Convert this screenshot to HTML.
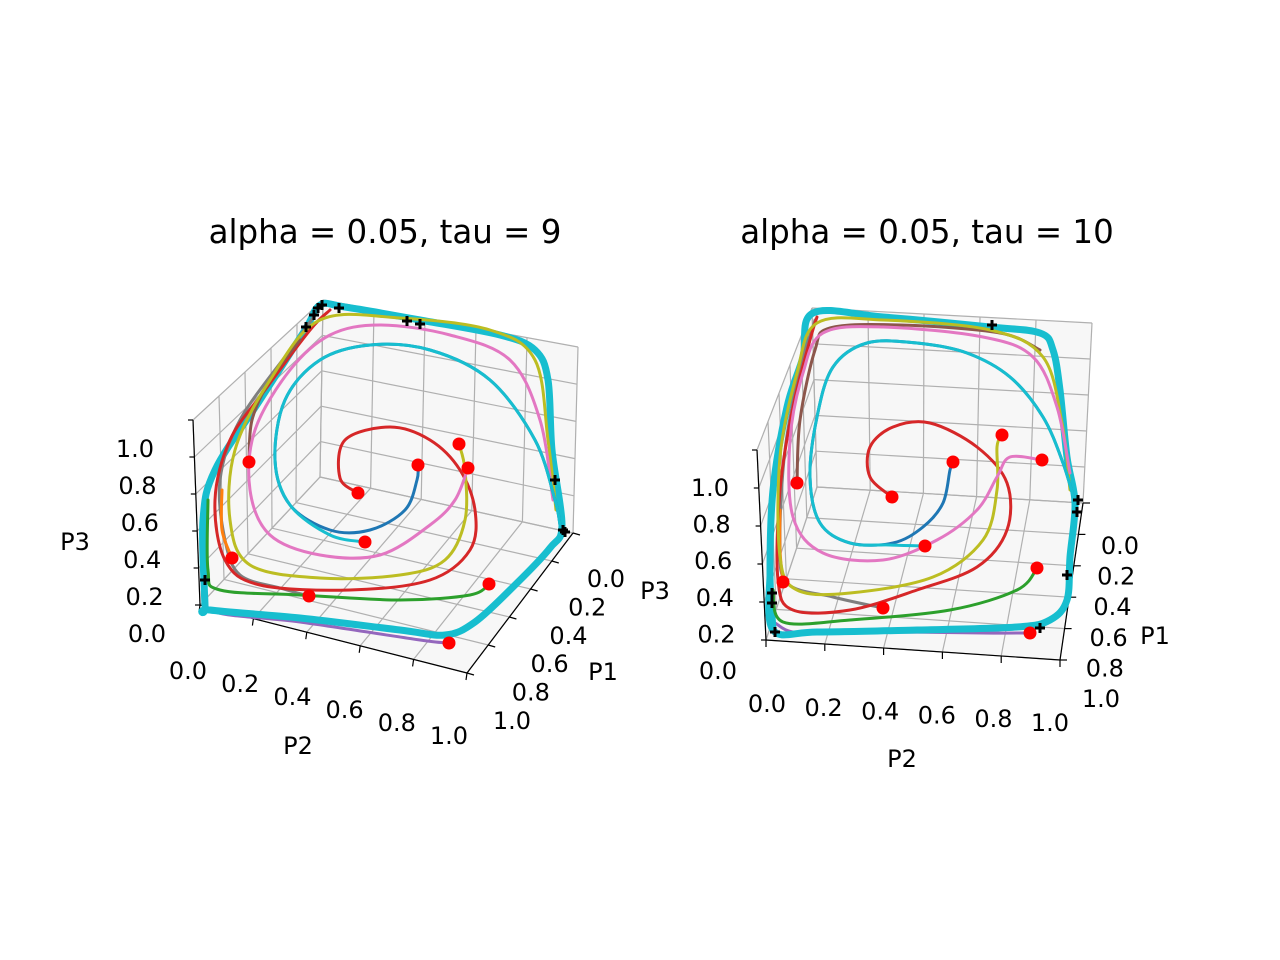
<!DOCTYPE html>
<html><head><meta charset="utf-8"><style>
body{margin:0;background:#fff;overflow:hidden}
svg{display:block}
text{font-family:"DejaVu Sans","Liberation Sans",sans-serif;fill:#000}
</style></head><body>
<svg id="fig" width="1280" height="960" viewBox="0 0 1280 960">
<rect width="1280" height="960" fill="#fff"/>
<text x="385" y="243" font-size="32.5" text-anchor="middle">alpha = 0.05, tau = 9</text>
<text x="927" y="243" font-size="32.5" text-anchor="middle">alpha = 0.05, tau = 10</text>
<g id="left"></g>
<g id="right"></g>
</svg>
<script>
// Trajectories in projected view coordinates (view plane units), per panel
const leftCycle=[[-1.80,-1.25],[-1.82,-0.40],[-1.70,0.10],[-1.25,0.80],[-0.80,1.50],[-0.65,1.75],[-0.40,1.73],[0.35,1.60],[1.15,1.45],[1.50,1.30],[1.63,1.00],[1.67,0.30],[1.77,-0.45],[1.65,-0.68],[1.30,-1.05],[0.90,-1.42],[0.60,-1.55],[0.15,-1.50],[-0.85,-1.38],[-1.75,-1.30],[-1.80,-1.25],[-1.82,-0.40]];
const leftBlue=[[0.33,0.15],[0.32,0],[0.20,-0.30],[-0.15,-0.50],[-0.55,-0.50],[-0.95,-0.25],[-1.10,0.20],[-1.00,0.80],[-0.65,1.20],[-0.15,1.35],[0.45,1.30],[1.05,1.00],[1.50,0.40],[1.70,-0.20],[1.75,-0.45]];
const leftCyan=[[-0.20,-0.62],[-0.55,-0.55],[-0.95,-0.25],[-1.10,0.20],[-1.00,0.80],[-0.65,1.20],[-0.15,1.35],[0.45,1.30],[1.05,1.00],[1.50,0.40],[1.70,-0.20],[1.75,-0.45]];
const leftRed=[[-0.27,-0.13],[-0.45,0.02],[-0.40,0.40],[0.05,0.53],[0.45,0.40],[0.75,0.10],[0.90,-0.30],[0.85,-0.70],[0.45,-1.00],[-0.35,-1.10],[-1.25,-1.05],[-1.60,-0.80],[-1.70,-0.20],[-1.55,0.40],[-1.20,0.90],[-0.75,1.50],[-0.55,1.70]];
const leftPink=[[0.83,0.12],[0.70,-0.20],[0.45,-0.45],[-0.05,-0.75],[-0.65,-0.75],[-1.15,-0.55],[-1.35,-0.10],[-1.30,0.50],[-0.95,1.10],[-0.55,1.45],[-0.05,1.55],[0.65,1.45],[1.25,1.20],[1.55,0.60],[1.68,-0.20]];
const leftBrown=[[-1.36,0.18],[-1.33,0.60],[-1.15,1.00],[-0.85,1.40]];
const leftOlive=[[0.74,0.36],[0.80,0.10],[0.80,-0.40],[0.60,-0.80],[0.15,-0.95],[-0.65,-0.98],[-1.35,-0.85],[-1.55,-0.40],[-1.50,0.30],[-1.15,1.00],[-0.65,1.60],[0.15,1.62],[1.05,1.50],[1.50,1.20],[1.63,0.40],[1.71,-0.30]];
const leftGreen=[[1.04,-1.04],[0.85,-1.15],[0.15,-1.20],[-0.85,-1.15],[-1.65,-1.10],[-1.77,-0.90],[-1.77,-0.20]];
const leftPurple=[[0.64,-1.63],[0.35,-1.60],[-0.85,-1.42],[-1.70,-1.32],[-1.80,-1.10]];
const leftGray=[[-0.76,-1.16],[-1.05,-1.08],[-1.45,-0.95],[-1.60,-0.60],[-1.65,0],[-1.45,0.60],[-0.95,1.30],[-0.70,1.65]];
const leftOrange=[[-1.53,-0.78],[-1.63,-0.50],[-1.63,-0.10]];
const leftStarts=[[-1.36,0.18],[-0.27,-0.13],[0.33,0.15],[0.74,0.36],[0.83,0.12],[-0.20,-0.62],[-1.53,-0.78],[-0.76,-1.16],[1.04,-1.04],[0.64,-1.63]];
const leftEnds=[[-1.80,-1.00],[-0.79,1.53],[-0.71,1.65],[-0.67,1.72],[-0.63,1.75],[-0.46,1.72],[0.22,1.59],[0.35,1.56],[1.70,0],[1.78,-0.50],[1.80,-0.52]];

const rightCycle=[[-1.47,-1.50],[-1.50,-0.93],[-1.47,-0.10],[-1.33,0.73],[-1.17,1.23],[-1.07,1.67],[-0.37,1.63],[0.70,1.53],[1.20,1.47],[1.33,1.30],[1.40,0.90],[1.47,0.23],[1.55,-0.23],[1.50,-0.77],[1.47,-1.20],[1.30,-1.40],[0.97,-1.47],[-0.03,-1.50],[-1.03,-1.52],[-1.47,-1.50],[-1.50,-0.93]];
const rightBlue=[[0.33,0.18],[0.30,0.10],[0.23,-0.23],[0.03,-0.47],[-0.27,-0.63],[-0.70,-0.63],[-1.00,-0.43],[-1.10,0.03],[-1.03,0.63],[-0.87,1.13],[-0.53,1.37],[-0.03,1.37],[0.47,1.27],[0.90,1.03],[1.23,0.63],[1.43,0.17],[1.55,-0.23]];
const rightCyan=[[0.05,-0.66],[-0.30,-0.65],[-0.70,-0.63],[-1.00,-0.43],[-1.10,0.03],[-1.03,0.63],[-0.87,1.13],[-0.53,1.37],[-0.03,1.37],[0.47,1.27],[0.90,1.03],[1.23,0.63],[1.43,0.17],[1.55,-0.23]];
const rightRed=[[-0.28,-0.17],[-0.50,0.03],[-0.50,0.33],[-0.27,0.53],[0.10,0.57],[0.57,0.33],[0.87,-0.03],[0.87,-0.50],[0.57,-0.87],[-0.03,-1.10],[-0.70,-1.30],[-1.27,-1.30],[-1.42,-1.00],[-1.40,-0.10],[-1.27,0.73],[-1.10,1.40],[-1.03,1.63]];
const rightPink=[[1.22,0.20],[0.90,0.23],[0.77,0.03],[0.57,-0.30],[0.17,-0.60],[-0.37,-0.80],[-0.97,-0.73],[-1.27,-0.37],[-1.30,0.40],[-1.17,1.07],[-0.97,1.47],[-0.37,1.53],[0.63,1.43],[1.13,1.23],[1.37,0.73],[1.50,0.07]];
const rightOlive=[[0.82,0.45],[0.77,0.33],[0.77,-0.10],[0.63,-0.60],[0.13,-0.97],[-0.70,-1.13],[-1.23,-1.10],[-1.40,-0.77],[-1.40,0.23],[-1.23,1.07],[-1.03,1.57],[-0.37,1.60],[0.70,1.50],[1.23,1.23],[1.42,0.57],[1.50,-0.10]];
const rightGreen=[[1.17,-0.88],[0.97,-1.10],[0.30,-1.30],[-0.70,-1.40],[-1.37,-1.42],[-1.47,-1.10]];
const rightPurple=[[1.10,-1.53],[0.63,-1.53],[-0.37,-1.52],[-1.20,-1.53],[-1.45,-1.43]];
const rightGray=[[-0.37,-1.28],[-0.87,-1.17],[-1.33,-1.03],[-1.40,-0.60],[-1.35,0.30],[-1.20,1.10],[-1.05,1.60]];
const rightBrown=[[-1.23,-0.03],[-1.20,0.60],[-1.05,1.30],[-0.90,1.52],[-0.20,1.55],[0.80,1.47],[1.20,1.30]];
const rightOrange=[[-1.37,-1.02],[-1.40,-0.70],[-1.40,-0.30]];
const rightStarts=[[0.33,0.18],[-0.28,-0.17],[0.82,0.45],[1.22,0.20],[0.05,-0.66],[-1.23,-0.03],[-1.37,-1.02],[-0.37,-1.28],[1.17,-0.88],[1.10,-1.53]];
const rightEnds=[[0.72,1.55],[1.58,-0.20],[1.57,-0.32],[1.47,-0.95],[1.20,-1.48],[-1.48,-1.13],[-1.48,-1.23],[-1.45,-1.52]];
const tickLabels=["0.0","0.2","0.4","0.6","0.8","1.0"];

const NS="http://www.w3.org/2000/svg";
function el(tag,attrs,parent){const e=document.createElementNS(NS,tag);for(const k in attrs)e.setAttribute(k,attrs[k]);parent.appendChild(e);return e;}
function lerp(a,b,t){return [a[0]+(b[0]-a[0])*t,a[1]+(b[1]-a[1])*t];}
function smooth(pts){let d="M"+pts[0][0].toFixed(1)+","+pts[0][1].toFixed(1);
 for(let i=0;i<pts.length-1;i++){const p0=pts[Math.max(i-1,0)],p1=pts[i],p2=pts[i+1],p3=pts[Math.min(i+2,pts.length-1)];
  const c1=[p1[0]+(p2[0]-p0[0])/6,p1[1]+(p2[1]-p0[1])/6],c2=[p2[0]-(p3[0]-p1[0])/6,p2[1]-(p3[1]-p1[1])/6];
  d+=" C"+c1.map(v=>v.toFixed(1))+" "+c2.map(v=>v.toFixed(1))+" "+p2.map(v=>v.toFixed(1));}
 return d;}

function panel(g,cfg,series,starts,ends){
 const sx=v=>cfg.cx+v*100, sy=v=>cfg.cy-v*100;
 const {A,Ap,O,Op,B,Bp,C}=cfg;
 [[A,Ap,Op,O],[O,Op,Bp,B],[A,O,B,C]].forEach((p,i)=>{
  const pg=el("polygon",{points:p.map(q=>q.join(",")).join(" "),fill:"#f2f2f2","fill-opacity":"0.6",stroke:"#f0f0f0"},g);
  
  
 });
 const gg=el("g",{stroke:"#b0b0b0","stroke-width":"1.2"},g);
 
 
 for(let k=0;k<=5;k++){const t=k/5;
  [[lerp(O,B,t),lerp(A,C,t)],[lerp(O,A,t),lerp(B,C,t)],[lerp(O,B,t),lerp(Op,Bp,t)],[lerp(O,Op,t),lerp(B,Bp,t)],[lerp(O,A,t),lerp(Op,Ap,t)],[lerp(O,Op,t),lerp(A,Ap,t)]].forEach(s=>{
   el("line",{x1:s[0][0],y1:s[0][1],x2:s[1][0],y2:s[1][1]},gg);});
 }
 const ax=el("g",{stroke:"#000","stroke-width":"1.2"},g);
 
 
 [[A,C],[C,B],[A,Ap]].forEach(s=>el("line",{x1:s[0][0],y1:s[0][1],x2:s[1][0],y2:s[1][1]},ax));
 for(let k=0;k<=5;k++){const t=k/5;
  let p=lerp(A,C,t); el("line",{x1:p[0],y1:p[1],x2:p[0]+cfg.tk2[0],y2:p[1]+cfg.tk2[1]},ax);
  p=lerp(B,C,t); el("line",{x1:p[0],y1:p[1],x2:p[0]+cfg.tk1[0],y2:p[1]+cfg.tk1[1]},ax);
  p=lerp(A,Ap,t); el("line",{x1:p[0],y1:p[1],x2:p[0]-5,y2:p[1]},ax);
  [[cfg.l2,'p2-tick'],[cfg.l1,'p1-tick'],[cfg.l3,'p3-tick']].forEach(([L,n])=>{
   const q=lerp(L[0],L[1],t);
   const tx=el("text",{x:q[0],y:q[1]+3,"font-size":"24","text-anchor":"middle"},g);tx.textContent=tickLabels[k];
   
   
  });
 }
 cfg.names.forEach(n=>{const tx=el("text",{x:n[1],y:n[2]+3,"font-size":"24","text-anchor":"middle"},g);tx.textContent=n[0];
  
  });
 series.forEach(s=>{
  const p=el("path",{d:smooth(s.data.map(v=>[sx(v[0]),sy(v[1])])),fill:"none",stroke:s.color,"stroke-width":s.w,"stroke-linecap":"round","stroke-linejoin":"round"},g);
  
  
 });
 starts.forEach(v=>{const c=el("circle",{cx:sx(v[0]),cy:sy(v[1]),r:6.5,fill:"#ff0000"},g);
  
  });
 ends.forEach(v=>{const x=sx(v[0]),y=sy(v[1]);
  const p=el("path",{d:`M${x-5},${y}H${x+5}M${x},${y-5}V${y+5}`,stroke:"#000","stroke-width":"3"},g);
  
  });
}

panel(document.getElementById("left"),{cx:385,cy:480,
 A:[200,605],Ap:[193,420],O:[320,477],Op:[323,300],B:[573,533],Bp:[578,347],C:[467,673],
 tk2:[-1,7],tk1:[7,2],
 l2:[[188,676],[449,741]],l1:[[606,584],[512,726]],l3:[[147,639],[135,454]],
 names:[["P2",298,751],["P1",603,677],["P3",75,547],["P3",655,596]]},
 [{name:"purple",data:leftPurple,color:"#9467bd",w:3},
  {name:"cycle",data:leftCycle,color:"#17becf",w:7},
  {name:"gray",data:leftGray,color:"#7f7f7f",w:3},
  {name:"orange",data:leftOrange,color:"#ff7f0e",w:3},
  {name:"green",data:leftGreen,color:"#2ca02c",w:3},
  {name:"red",data:leftRed,color:"#d62728",w:3},
  {name:"brown",data:leftBrown,color:"#8c564b",w:3},
  {name:"olive",data:leftOlive,color:"#bcbd22",w:3},
  {name:"pink",data:leftPink,color:"#e377c2",w:3},
  {name:"blue",data:leftBlue,color:"#1f77b4",w:3},
  {name:"cyan",data:leftCyan,color:"#17becf",w:3}],leftStarts,leftEnds);

panel(document.getElementById("right"),{cx:920,cy:480,
 A:[766,640],Ap:[757,450],O:[817,487],Op:[812,308],B:[1083,503],Bp:[1092,323],C:[1060,660],
 tk2:[0,7],tk1:[7,0],
 l2:[[767,709],[1050,728]],l1:[[1120,551],[1101,704]],l3:[[718,676],[710,493]],
 names:[["P2",902,764],["P1",1155,641]]},
 [{name:"purple",data:rightPurple,color:"#9467bd",w:3},
  {name:"cycle",data:rightCycle,color:"#17becf",w:7},
  {name:"gray",data:rightGray,color:"#7f7f7f",w:3},
  {name:"orange",data:rightOrange,color:"#ff7f0e",w:3},
  {name:"green",data:rightGreen,color:"#2ca02c",w:3},
  {name:"red",data:rightRed,color:"#d62728",w:3},
  {name:"brown",data:rightBrown,color:"#8c564b",w:3},
  {name:"olive",data:rightOlive,color:"#bcbd22",w:3},
  {name:"pink",data:rightPink,color:"#e377c2",w:3},
  {name:"blue",data:rightBlue,color:"#1f77b4",w:3},
  {name:"cyan",data:rightCyan,color:"#17becf",w:3}],rightStarts,rightEnds);
</script>
</body></html>
